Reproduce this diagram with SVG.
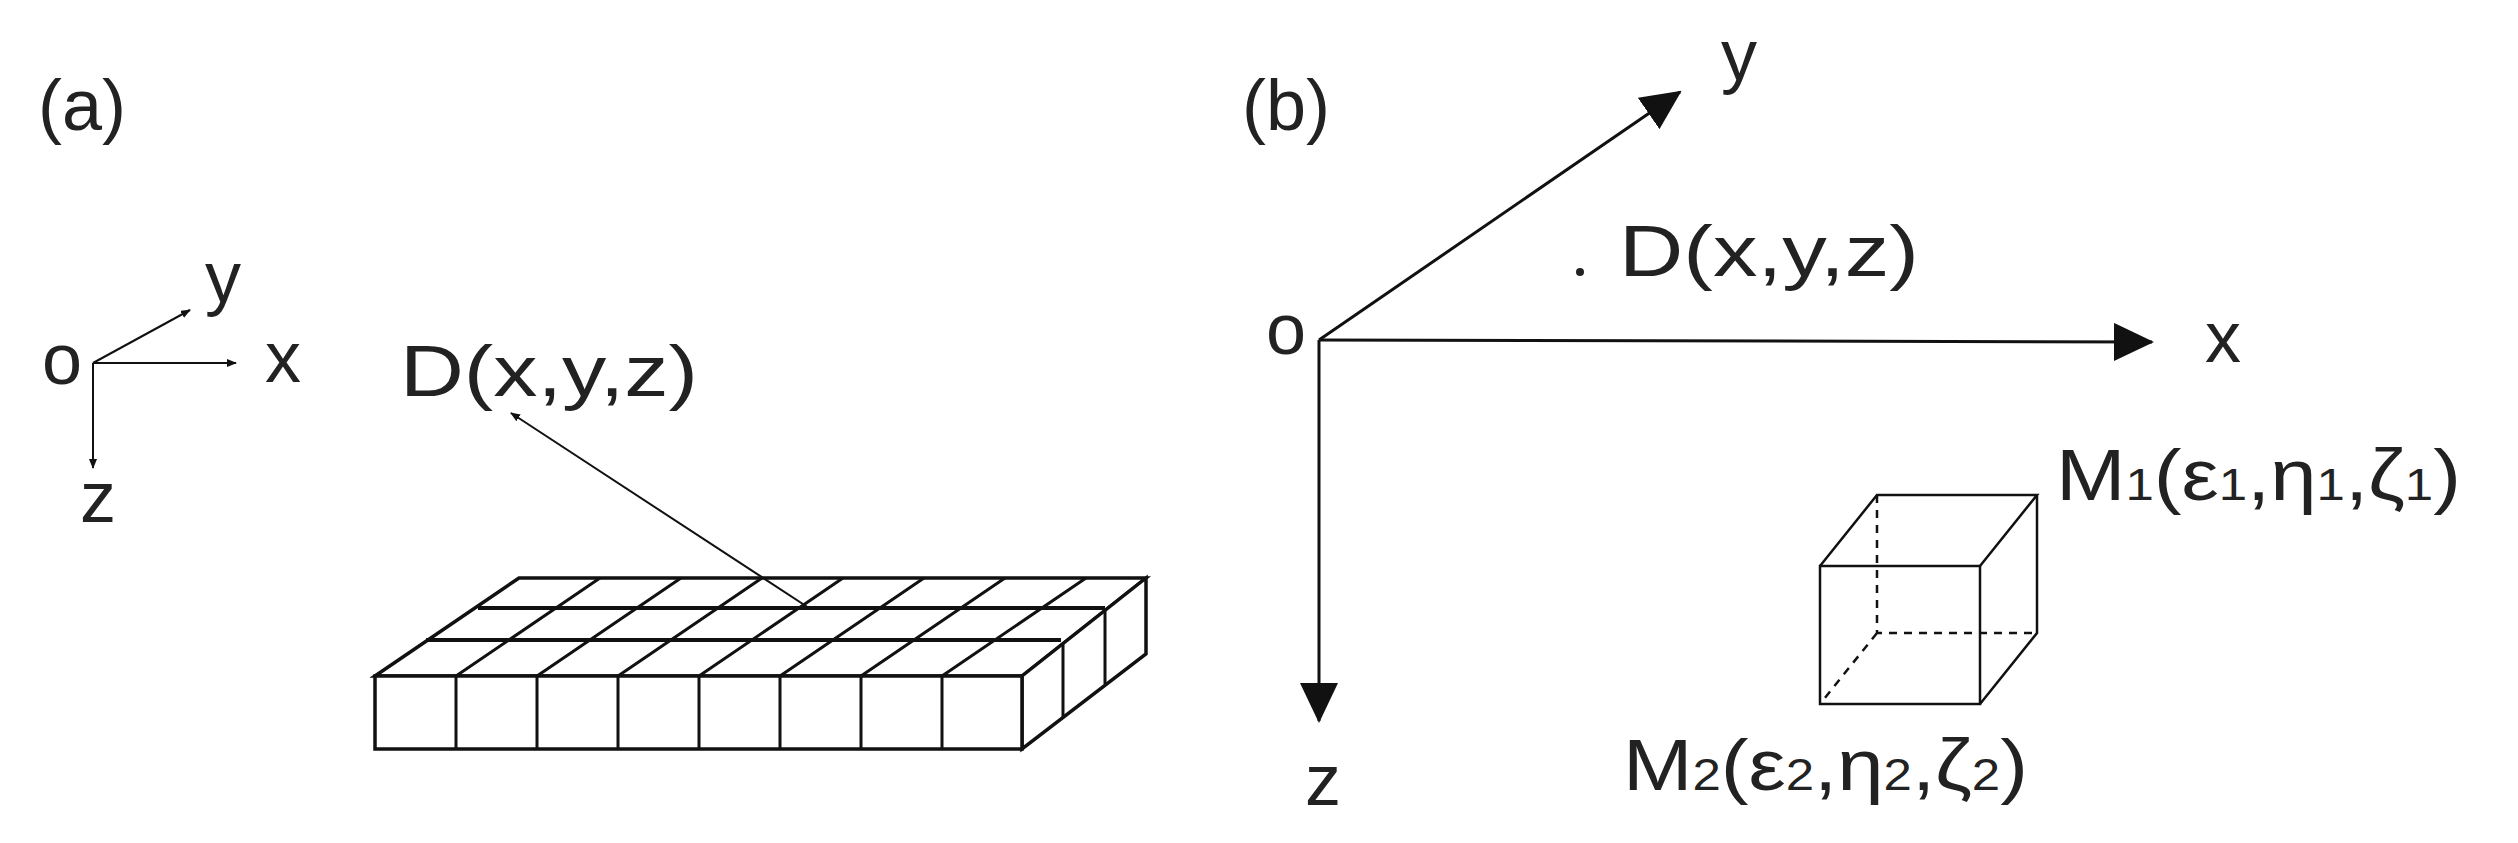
<svg xmlns="http://www.w3.org/2000/svg" width="2518" height="843" viewBox="0 0 2518 843">
<style>
text{font-family:"Liberation Sans",Arial,sans-serif;fill:#222;font-size:72px}
.s{font-size:44px}
.ln{stroke:#111;fill:none;stroke-width:2}
.bx{stroke:#111;fill:#fff;stroke-width:3.5}
.ds{stroke:#111;fill:none;stroke-width:2.5;stroke-dasharray:8 7}
</style>
<defs>
<marker id="sm" markerWidth="10" markerHeight="8" refX="9" refY="4" orient="auto" markerUnits="userSpaceOnUse"><path d="M0,0 L10,4 L0,8z" fill="#111"/></marker>
<marker id="big" markerWidth="40" markerHeight="38" refX="38" refY="19" orient="auto" markerUnits="userSpaceOnUse"><path d="M0,0 L40,19 L0,38z" fill="#111"/></marker>
</defs>
<g id="panel-a">
<text x="38" y="130">(a)</text>
<g id="grid" transform="translate(0,-7)">
<path class="bx" d="M375,683 L519,585 L1146,585 L1022,683z"/>
<path class="bx" d="M1022,683 L1146,585 L1146,661 L1022,756z"/>
<rect class="bx" x="375" y="683" width="647" height="73"/>
<g class="ln" style="stroke-width:3">
<path d="M456,683V756M537,683V756M618,683V756M699,683V756M780,683V756M861,683V756M942,683V756"/>
<path d="M456,683L600,585M537,683L681,585M618,683L762,585M699,683L843,585M780,683L924,585M861,683L1005,585M942,683L1086,585"/>
<path d="M478,615L1105,615M426,647L1061,647" style="stroke-width:4"/>
<path d="M1063,650V724M1105,615V691"/>
</g>
</g>
<g id="axes-a">
<line class="ln" x1="93" y1="363" x2="236" y2="363" marker-end="url(#sm)"/>
<line class="ln" x1="93" y1="363" x2="190" y2="310" marker-end="url(#sm)"/>
<line class="ln" x1="93" y1="363" x2="93" y2="468" marker-end="url(#sm)"/>
<text x="42" y="384">o</text>
<text x="265" y="382">x</text>
<text x="205" y="302">y</text>
<text x="80" y="522">z</text>
</g>
<text x="400" y="396" textLength="298" lengthAdjust="spacingAndGlyphs">D(x,y,z)</text>
<g id="conn-a"><line class="ln" x1="809" y1="608" x2="511" y2="413" marker-end="url(#sm)"/></g>
</g>
<g id="panel-b">
<text x="1242" y="130">(b)</text>
<g id="axes-b">
<line class="ln" x1="1319" y1="340" x2="2152" y2="342" style="stroke-width:3" marker-end="url(#big)"/>
<line class="ln" x1="1319" y1="340" x2="1680" y2="92" style="stroke-width:3" marker-end="url(#big)"/>
<line class="ln" x1="1319" y1="340" x2="1319" y2="721" style="stroke-width:3" marker-end="url(#big)"/>
<text x="1266" y="354">o</text>
<text x="2205" y="362">x</text>
<text x="1721" y="80">y</text>
<text x="1305" y="805">z</text>
</g>
<circle cx="1580" cy="272" r="4" fill="#222"/>
<text x="1619" y="276" textLength="300" lengthAdjust="spacingAndGlyphs">D(x,y,z)</text>
<g id="cube">
<path class="ds" d="M1877,495V633H2037M1877,633L1820,704"/>
<path class="ln" style="stroke-width:2.5" d="M1820,566L1877,495H2037L1980,566M2037,495V633L1980,704"/>
<rect class="ln" style="stroke-width:2.5" x="1820" y="566" width="160" height="138"/>
</g>
<text x="2056" y="500" textLength="405" lengthAdjust="spacingAndGlyphs">M<tspan class="s">1</tspan>(ε<tspan class="s">1</tspan>,η<tspan class="s">1</tspan>,ζ<tspan class="s">1</tspan>)</text>
<text x="1623" y="790" textLength="405" lengthAdjust="spacingAndGlyphs">M<tspan class="s">2</tspan>(ε<tspan class="s">2</tspan>,η<tspan class="s">2</tspan>,ζ<tspan class="s">2</tspan>)</text>
</g>
</svg>
